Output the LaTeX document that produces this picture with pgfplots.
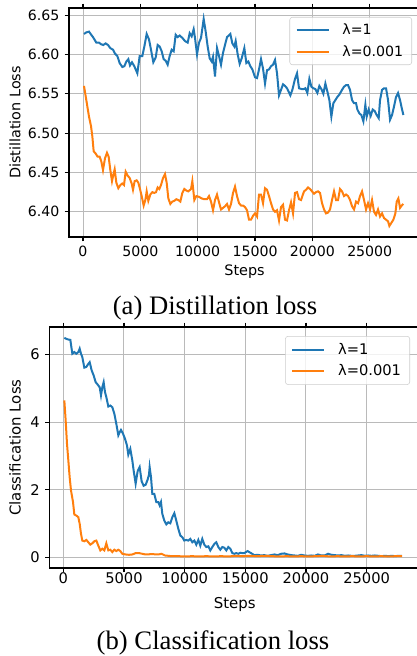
\documentclass[border=0pt]{standalone}
\usepackage{fontspec}
\setmainfont{DejaVu Sans}
\newfontfamily\capfont{Liberation Serif}
\usepackage{pgfplots}
\pgfplotsset{compat=1.18}

\definecolor{mplblue}{RGB}{31,119,180}
\definecolor{mplorange}{RGB}{255,127,14}
\definecolor{gridgray}{RGB}{186,186,186}

\pgfplotsset{
  lossaxis/.style={
    scale only axis,
    anchor=north west,
    axis line style={black, line width=0.85pt},
    tick align=outside,
    major tick length=3.2pt,
    tick style={black, line width=0.85pt},
    xtick={0,5000,10000,15000,20000,25000},
    scaled ticks=false,
    /pgf/number format/assume math mode=true,
    /pgf/number format/1000 sep={},
    grid=major,
    major grid style={gridgray, line width=0.7pt},
    xlabel={Steps},
    legend cell align=left,
    legend image code/.code={\draw[#1] (0pt,0pt) -- (24pt,0pt);},
    legend style={draw=black!20, rounded corners=2pt, fill=white, fill opacity=0.8,
      text opacity=1, draw opacity=1, inner xsep=4.5pt, inner ysep=3pt, row sep=2.5pt,
      at={(1,1)}, anchor=north east,
      /tikz/every odd column/.append style={column sep=7.5pt}},
    every axis plot/.append style={line width=1.5pt},
    xticklabel style={anchor=north, inner sep=0pt},
    yticklabel style={anchor=east, inner sep=0pt, xshift=-3.9pt},
  },
}

\begin{document}
\begin{tikzpicture}
\path[use as bounding box] (0,0) rectangle (312.75pt,-492pt);

% (a) distillation loss
\begin{axis}[lossaxis,
  at={(51.75pt,-6pt)}, width=263.4pt, height=171.75pt,
  xmin=-1220, xmax=29400, ymin=6.368, ymax=6.659,
  ytick={6.40,6.45,6.50,6.55,6.60,6.65},
  y tick label style={/pgf/number format/fixed, /pgf/number format/fixed zerofill, /pgf/number format/precision=2},
  xticklabel style={yshift=-3pt},
  ticklabel style={font=\fontsize{10.6}{12}\selectfont},
  ylabel={Distillation Loss},
  every axis x label/.style={at={(axis description cs:0.5,-0.153)}, anchor=center, font=\fontsize{10.8}{12}\selectfont},
  every axis y label/.style={at={(axis description cs:-0.1538,0.5)}, rotate=90, anchor=center, font=\fontsize{10.8}{12}\selectfont},
  legend style={font=\fontsize{10.6}{12}\selectfont, xshift=-6.15pt, yshift=-6.75pt},
]
\addplot[mplblue] coordinates {
(87,6.626) (291,6.628) (523,6.629) (669,6.626) (872,6.622) (1163,6.615) (1395,6.615)
(1570,6.613) (1773,6.612) (1977,6.614) (2180,6.612) (2383,6.608) (2616,6.606) (2790,6.601)
(2994,6.598) (3197,6.589) (3430,6.584) (3604,6.585) (3779,6.591) (3953,6.594) (4098,6.586)
(4273,6.590) (4476,6.585) (4738,6.576) (4942,6.598) (5174,6.598) (5348,6.610) (5552,6.626)
(5755,6.619) (5930,6.606) (6133,6.590) (6337,6.596) (6511,6.612) (6686,6.610) (6860,6.604)
(7034,6.594) (7209,6.592) (7383,6.587) (7558,6.598) (7732,6.606) (7906,6.604) (8081,6.625)
(8255,6.622) (8430,6.624) (8662,6.621) (8894,6.617) (9127,6.615) (9301,6.627) (9476,6.623)
(9650,6.632) (9766,6.621) (9941,6.600) (10115,6.615) (10290,6.621) (10522,6.645) (10697,6.629)
(10871,6.610) (11045,6.595) (11220,6.591) (11336,6.597) (11510,6.572) (11685,6.608) (11859,6.598)
(12034,6.587) (12208,6.602) (12382,6.612) (12557,6.622) (12847,6.626) (13022,6.614) (13196,6.610)
(13312,6.617) (13487,6.600) (13661,6.588) (13836,6.595) (14068,6.608) (14243,6.589) (14417,6.591)
(14591,6.585) (14766,6.581) (14998,6.571) (15173,6.570) (15347,6.581) (15522,6.594) (15696,6.582)
(15870,6.563) (16045,6.580) (16219,6.581) (16394,6.585) (16568,6.587) (16742,6.593) (16917,6.576)
(17091,6.548) (17266,6.555) (17440,6.562) (17614,6.560) (17789,6.557) (18079,6.548) (18254,6.555)
(18486,6.569) (18661,6.576) (18835,6.557) (19068,6.556) (19242,6.556) (19388,6.557) (19562,6.551)
(19736,6.569) (19911,6.559) (20085,6.557) (20259,6.556) (20434,6.551) (20608,6.560) (20783,6.556)
(20957,6.550) (21131,6.563) (21306,6.553) (21480,6.542) (21654,6.521) (21829,6.538) (22003,6.542)
(22178,6.546) (22352,6.549) (22585,6.555) (22759,6.559) (22934,6.561) (23108,6.561) (23282,6.555)
(23457,6.542) (23631,6.538) (23806,6.538) (23922,6.530) (24096,6.525) (24271,6.523) (24445,6.515)
(24619,6.536) (24736,6.521) (24910,6.530) (25084,6.522) (25259,6.530) (25433,6.528) (25608,6.523)
(25782,6.519) (25898,6.542) (26073,6.555) (26247,6.557) (26422,6.557) (26596,6.542) (26770,6.517)
(26945,6.523) (27119,6.534) (27294,6.546) (27468,6.551) (27642,6.542) (27788,6.532) (27933,6.523)
};
\addlegendentry{λ=1}
\addplot[mplorange] coordinates {
(87,6.560) (233,6.547) (378,6.534) (523,6.521) (698,6.509) (814,6.496) (930,6.477)
(1105,6.474) (1279,6.470) (1453,6.470) (1599,6.464) (1744,6.453) (1918,6.468) (2093,6.475)
(2238,6.470) (2383,6.453) (2529,6.439) (2645,6.447) (2761,6.454) (2907,6.437) (3081,6.430)
(3256,6.434) (3430,6.436) (3575,6.434) (3721,6.451) (3895,6.446) (4069,6.443) (4244,6.436)
(4360,6.428) (4505,6.439) (4680,6.440) (4825,6.437) (4970,6.429) (5116,6.420) (5290,6.408)
(5436,6.415) (5552,6.426) (5697,6.414) (5871,6.422) (6046,6.425) (6220,6.424) (6366,6.425)
(6511,6.431) (6656,6.429) (6802,6.434) (6976,6.443) (7150,6.448) (7296,6.437) (7441,6.417)
(7616,6.410) (7790,6.413) (7964,6.414) (8139,6.416) (8313,6.415) (8487,6.413) (8662,6.424)
(8836,6.429) (9011,6.427) (9185,6.426) (9418,6.429) (9534,6.439) (9708,6.415) (9883,6.420)
(10115,6.419) (10348,6.417) (10580,6.416) (10813,6.416) (10987,6.420) (11162,6.413) (11336,6.402)
(11510,6.415) (11685,6.422) (11859,6.412) (12034,6.403) (12208,6.405) (12382,6.407) (12557,6.410)
(12731,6.403) (12906,6.410) (13080,6.424) (13254,6.432) (13429,6.420) (13603,6.411) (13778,6.408)
(13952,6.408) (14126,6.406) (14301,6.402) (14475,6.390) (14650,6.390) (14824,6.395) (14998,6.398)
(15173,6.394) (15347,6.422) (15522,6.422) (15696,6.411) (15870,6.430) (16045,6.428) (16219,6.420)
(16394,6.411) (16568,6.403) (16742,6.400) (16917,6.402) (17091,6.389) (17266,6.406) (17440,6.409)
(17614,6.390) (17789,6.389) (17963,6.402) (18138,6.412) (18312,6.398) (18486,6.424) (18661,6.425)
(18835,6.416) (19010,6.415) (19271,6.426) (19446,6.428) (19620,6.431) (19794,6.429) (19969,6.426)
(20143,6.423) (20318,6.425) (20492,6.426) (20666,6.424) (20841,6.411) (21015,6.403) (21190,6.398)
(21364,6.399) (21538,6.403) (21713,6.415) (21887,6.426) (22062,6.415) (22236,6.415) (22410,6.429)
(22585,6.426) (22759,6.420) (22934,6.422) (23108,6.420) (23282,6.415) (23457,6.407) (23631,6.403)
(23806,6.413) (23980,6.411) (24154,6.420) (24329,6.426) (24503,6.415) (24678,6.403) (24852,6.411)
(25026,6.403) (25201,6.415) (25375,6.400) (25550,6.396) (25724,6.403) (25898,6.394) (26073,6.398)
(26247,6.392) (26422,6.390) (26596,6.388) (26712,6.382) (26887,6.386) (27061,6.390) (27235,6.398)
(27352,6.413) (27497,6.417) (27642,6.405) (27788,6.408) (27933,6.410)
};
\addlegendentry{λ=0.001}
\end{axis}

% (b) classification loss
\begin{axis}[lossaxis,
  at={(37.1pt,-245.25pt)}, width=277.9pt, height=180.75pt,
  xmin=-1140, xmax=29400, ymin=-0.31, ymax=6.81,
  ytick={0,2,4,6},
  xticklabel style={yshift=0pt},
  ticklabel style={font=\fontsize{11}{13}\selectfont},
  ylabel={Classification Loss},
  every axis x label/.style={at={(axis description cs:0.5,-0.153)}, anchor=center, font=\fontsize{11.2}{13}\selectfont},
  every axis y label/.style={at={(axis description cs:-0.0931,0.5)}, rotate=90, anchor=center, font=\fontsize{11.2}{13}\selectfont},
  legend style={font=\fontsize{11}{13}\selectfont, xshift=-7.5pt, yshift=-6.75pt},
]
\addplot[mplblue] coordinates {
(85,6.49) (250,6.46) (415,6.44) (580,6.43) (745,6.02) (909,6.07) (1074,6.02) (1239,6.07)
(1349,6.17) (1459,6.02) (1568,5.92) (1733,5.61) (1898,5.63) (2063,5.72) (2173,5.77) (2338,5.53)
(2502,5.38) (2667,5.18) (2832,5.11) (2997,5.03) (3107,4.79) (3216,5.03) (3326,5.18) (3436,4.89)
(3546,4.74) (3711,4.46) (3875,4.49) (4040,4.44) (4205,4.25) (4370,3.95) (4535,3.61) (4645,3.70)
(4754,3.77) (4919,3.66) (5084,3.51) (5249,3.31) (5358,3.04) (5523,3.21) (5688,2.87) (5798,2.57)
(5963,2.18) (6128,2.55) (6293,2.67) (6458,2.25) (6622,2.12) (6787,2.15) (6952,2.30) (7062,2.45)
(7117,2.67) (7230,2.37) (7336,1.88) (7501,1.88) (7666,1.64) (7831,1.64) (7941,1.54) (8051,1.64)
(8160,1.29) (8325,1.09) (8490,0.98) (8655,1.04) (8820,1.01) (8985,1.19) (9150,1.31) (9314,1.09)
(9479,0.85) (9644,0.65) (9809,0.60) (9974,0.50) (10139,0.52) (10303,0.50) (10468,0.55) (10633,0.45)
(10798,0.50) (10963,0.38) (11128,0.52) (11293,0.35) (11457,0.55) (11622,0.38) (11787,0.31) (11952,0.33)
(12117,0.21) (12282,0.31) (12446,0.40) (12611,0.45) (12776,0.31) (12941,0.23) (13106,0.31) (13271,0.29)
(13435,0.21) (13600,0.31) (13765,0.26) (13930,0.13) (14095,0.11) (14260,0.13) (14425,0.11) (14589,0.14)
(14754,0.13) (14919,0.13) (15190,0.19) (15470,0.13) (15743,0.07) (16020,0.08) (16296,0.06) (16570,0.07)
(16850,0.05) (17120,0.07) (17400,0.09) (17680,0.07) (17950,0.11) (18230,0.12) (18500,0.09) (18780,0.07)
(19060,0.06) (19330,0.05) (19610,0.08) (19880,0.06) (20160,0.05) (20430,0.06) (20710,0.05) (20990,0.09)
(21260,0.06) (21540,0.06) (21820,0.11) (22100,0.08) (22370,0.07) (22650,0.06) (22920,0.07) (23200,0.05)
(23470,0.06) (23750,0.05) (24030,0.05) (24300,0.06) (24580,0.07) (24850,0.05) (25130,0.06) (25400,0.05)
(25680,0.06) (25960,0.05) (26240,0.04) (26510,0.05) (26790,0.04) (27070,0.05) (27350,0.04) (27630,0.05)
(27900,0.05)
};
\addlegendentry{λ=1}
\addplot[mplorange] coordinates {
(85,4.64) (195,4.05) (305,3.36) (415,2.87) (525,2.37) (635,1.98) (800,1.64) (909,1.27)
(1074,1.24) (1239,1.19) (1349,1.00) (1459,0.70) (1568,0.50) (1733,0.48) (1898,0.52) (2063,0.45)
(2228,0.38) (2393,0.42) (2557,0.48) (2722,0.50) (2887,0.35) (3052,0.21) (3216,0.26) (3381,0.21)
(3546,0.42) (3711,0.21) (3875,0.23) (4040,0.16) (4205,0.23) (4370,0.19) (4535,0.23) (4700,0.19)
(4864,0.11) (5139,0.09) (5413,0.08) (5688,0.09) (5963,0.13) (6237,0.13) (6512,0.11) (6787,0.09)
(7281,0.10) (7831,0.09) (8100,0.11) (8380,0.06) (8930,0.04) (9479,0.04) (10028,0.03) (10600,0.04)
(11200,0.03) (11800,0.04) (12400,0.03) (13000,0.04) (13600,0.03) (14200,0.05) (14800,0.04) (15400,0.05)
(16000,0.04) (16600,0.05) (17200,0.04) (17800,0.03) (18400,0.04) (19000,0.03) (19600,0.04) (20200,0.03)
(20800,0.04) (21400,0.05) (22000,0.03) (22600,0.04) (23200,0.03) (23800,0.04) (24400,0.03) (25000,0.04)
(25600,0.03) (26200,0.04) (26800,0.03) (27400,0.04) (27933,0.04)
};
\addlegendentry{λ=0.001}
\end{axis}

\node[font=\capfont\fontsize{20}{24}\selectfont, anchor=center] at (161.25pt,-231pt) {(a) Distillation loss};
\node[font=\capfont\fontsize{20}{24}\selectfont, anchor=center] at (159.75pt,-482.25pt) {(b) Classification loss};
\end{tikzpicture}
\end{document}
